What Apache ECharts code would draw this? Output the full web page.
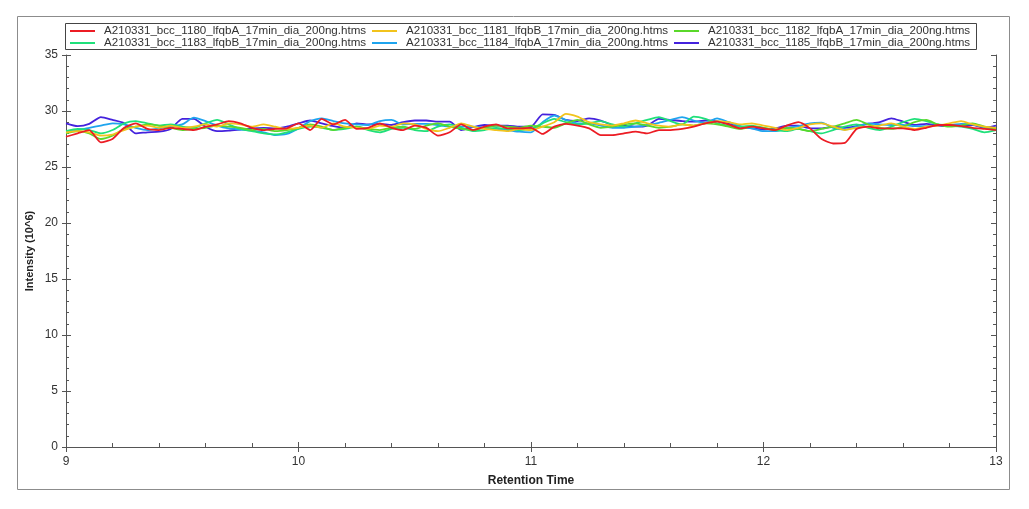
<!DOCTYPE html>
<html>
<head>
<meta charset="utf-8">
<script src="https://cdn.jsdelivr.net/npm/echarts@6/dist/echarts.min.js"></script>
<style>
  html, body { margin: 0; padding: 0; background: #fff; }
  #chart { width: 1029px; height: 509px; }
</style>
</head>
<body>
<div id="chart"></div>
<script>
// retention time, 9.00 .. 13.00 min, step 0.05
const times = Array.from({ length: 81 }, (_, i) => +(9 + i * 0.05).toFixed(2))

const names = [
  'A210331_bcc_1180_lfqbA_17min_dia_200ng.htms',
  'A210331_bcc_1181_lfqbB_17min_dia_200ng.htms',
  'A210331_bcc_1182_lfqbA_17min_dia_200ng.htms',
  'A210331_bcc_1183_lfqbB_17min_dia_200ng.htms',
  'A210331_bcc_1184_lfqbA_17min_dia_200ng.htms',
  'A210331_bcc_1185_lfqbB_17min_dia_200ng.htms'
]
const colors = ['#ec1c24', '#f2c31c', '#5ad82a', '#1fe07a', '#1ea4ee', '#4422dd']

const yTicks = [0, 5, 10, 15, 20, 25, 30, 35]
const xTicks = [9, 10, 11, 12, 13]

// intensity (10^6)
const s1180 = [27.7, 28.0, 28.3, 27.2, 27.5, 28.5, 28.9, 28.4, 28.3, 28.5, 28.4, 28.3, 28.6, 28.8, 29.1, 28.9, 28.5, 28.3, 28.4, 28.45,
  28.9, 28.3, 29.3, 28.8, 29.2, 28.4, 28.5, 28.9, 28.5, 28.3, 28.7, 28.5, 27.8, 28.1, 28.8, 28.3, 28.6, 28.8, 28.45, 28.45,
  28.5, 27.95, 28.6, 28.85, 28.7, 28.45, 27.85, 27.85, 28.0, 28.15, 28.0, 28.3, 28.3, 28.4, 28.6, 28.9, 29.05, 28.8, 28.45, 28.6,
  28.45, 28.3, 28.7, 29.0, 28.45, 27.5, 27.1, 27.15, 28.4, 28.6, 28.45, 28.45, 28.45, 28.3, 28.5, 28.75, 28.75, 28.65, 28.5, 28.4, 28.3]
const s1181 = [28.1, 28.2, 28.1, 27.8, 27.9, 28.3, 28.6, 28.7, 28.5, 28.7, 28.5, 28.6, 28.8, 28.6, 28.9, 28.8, 28.6, 28.8, 28.6, 28.4,
  28.5, 28.7, 28.5, 28.9, 28.6, 28.5, 28.4, 28.7, 28.6, 28.9, 28.8, 28.4, 28.2, 28.5, 28.9, 28.6, 28.4, 28.3, 28.2, 28.4,
  28.3, 28.6, 29.0, 29.75, 29.5, 29.0, 28.8, 28.7, 28.9, 29.15, 28.9, 28.7, 28.6, 28.8, 28.7, 28.9, 29.1, 29.0, 28.8, 28.9,
  28.7, 28.5, 28.3, 28.5, 28.8, 28.9, 28.6, 28.3, 28.5, 28.6, 28.7, 28.9, 28.6, 28.4, 28.6, 28.7, 28.9, 29.1, 28.8, 28.6, 28.5]
const s1182 = [28.0, 28.2, 28.0, 27.5, 27.8, 28.4, 28.6, 28.8, 28.7, 28.5, 28.3, 28.4, 28.5, 28.7, 28.6, 28.5, 28.3, 28.4, 28.2, 28.3,
  28.5, 28.8, 28.6, 28.3, 28.5, 28.6, 28.4, 28.3, 28.5, 28.6, 28.4, 28.7, 28.9, 28.6, 28.4, 28.3, 28.5, 28.7, 28.6, 28.5,
  28.7, 28.6, 28.5, 28.9, 29.2, 28.8, 28.5, 28.6, 28.8, 28.9, 28.7, 28.5, 28.6, 28.8, 28.7, 28.9, 28.8, 28.6, 28.4, 28.6,
  28.5, 28.3, 28.5, 28.4, 28.2, 28.4, 28.6, 28.9, 29.2, 28.8, 28.5, 28.4, 28.6, 29.0, 29.2, 28.8, 28.6, 28.7, 28.9, 28.6, 28.4]
const s1183 = [28.2, 28.4, 28.3, 28.0, 28.3, 28.9, 29.1, 28.9, 28.7, 28.8, 28.6, 28.5, 28.9, 29.2, 28.8, 28.4, 28.2, 28.0, 27.9, 28.1,
  28.4, 28.6, 28.5, 28.3, 28.4, 28.6, 28.3, 28.1, 28.4, 28.5, 28.3, 28.2, 28.6, 28.8, 28.5, 28.2, 28.3, 28.5, 28.4, 28.3,
  28.4, 28.9, 29.3, 29.0, 28.8, 28.9, 29.1, 28.8, 28.6, 28.9, 29.2, 29.45, 29.1, 28.8, 29.5, 29.3, 28.9, 28.7, 28.6, 28.7,
  28.5, 28.3, 28.2, 28.4, 28.2, 28.0, 28.3, 28.6, 28.8, 28.5, 28.3, 28.6, 29.0, 29.3, 29.1, 28.8, 28.7, 28.6, 28.4, 28.1, 28.3]
const s1184 = [28.15, 28.3, 28.5, 28.7, 28.9, 28.8, 28.5, 28.3, 28.45, 28.6, 28.8, 29.4, 29.1, 28.7, 28.45, 28.35, 28.25, 28.1, 27.85, 27.95,
  28.45, 29.1, 29.35, 29.1, 28.9, 28.8, 28.75, 29.1, 29.2, 28.8, 28.85, 28.85, 28.75, 28.6, 28.6, 28.6, 28.5, 28.4, 28.3, 28.15,
  28.1, 29.0, 29.6, 29.2, 28.9, 28.9, 28.7, 28.5, 28.5, 28.6, 28.75, 28.95, 29.2, 29.45, 29.15, 28.95, 29.35, 29.0, 28.65, 28.45,
  28.2, 28.2, 28.45, 28.65, 28.9, 28.95, 28.5, 28.35, 28.6, 28.9, 28.8, 28.75, 28.75, 28.65, 28.65, 28.75, 28.75, 28.85, 28.8, 28.55, 28.45]
const s1185 = [28.9, 28.65, 28.85, 29.45, 29.2, 28.9, 28.0, 28.1, 28.15, 28.4, 29.3, 29.3, 28.6, 28.2, 28.25, 28.35, 28.45, 28.5, 28.45, 28.6,
  28.9, 29.15, 28.9, 28.65, 28.5, 28.9, 28.8, 28.85, 28.75, 29.0, 29.15, 29.15, 29.05, 29.05, 28.3, 28.55, 28.75, 28.7, 28.7, 28.6,
  28.6, 29.7, 29.65, 29.2, 29.1, 29.35, 29.15, 28.75, 28.7, 28.6, 28.7, 29.3, 29.2, 29.1, 29.05, 29.15, 29.1, 28.85, 28.6, 28.45,
  28.35, 28.45, 28.7, 28.7, 28.45, 28.45, 28.6, 28.5, 28.65, 28.85, 29.0, 29.35, 29.05, 28.75, 28.85, 28.7, 28.65, 28.7, 28.75, 28.5, 28.7]

const seriesValues = [s1180, s1181, s1182, s1183, s1184, s1185]

const font = 'Liberation Sans, Arial, sans-serif'
const axisColor = '#555'
const labelColor = '#333'

// legend: two rows, three columns, each item placed on its own
const legendCols = [70, 372, 674]
const legendRows = [25, 37]

const chart = echarts.init(document.getElementById('chart'))

const option = {
  animation: false,
  textStyle: { fontFamily: font },
  grid: { left: 66, right: 33, top: 55, bottom: 62 },
  graphic: [
    {
      type: 'rect',
      shape: { x: 17.5, y: 16.5, width: 992, height: 473 },
      style: { fill: 'none', stroke: '#8c8c8c', lineWidth: 1 },
      silent: true
    },
    {
      type: 'rect',
      shape: { x: 65.5, y: 23.5, width: 911, height: 26 },
      style: { fill: '#fff', stroke: '#444', lineWidth: 1 },
      z: -1,
      silent: true
    }
  ],
  legend: names.map((n, i) => ({
    data: [n],
    left: legendCols[i % 3],
    top: legendRows[Math.floor(i / 3)],
    padding: 0,
    icon: 'rect',
    itemWidth: 25,
    itemHeight: 2,
    itemGap: 0,
    selectedMode: false,
    textStyle: { fontSize: 11.6, color: labelColor, fontFamily: font, padding: [0, 0, 0, 4] }
  })),
  xAxis: [
    {
      type: 'value',
      min: 9,
      max: 13,
      interval: 1,
      axisLine: { show: true, lineStyle: { color: axisColor } },
      axisTick: { show: true, inside: true, length: 5, lineStyle: { color: axisColor } },
      minorTick: { show: true, splitNumber: 5, length: 4, lineStyle: { color: axisColor } },
      splitLine: { show: false },
      axisLabel: { show: false },
      name: 'Retention Time',
      nameLocation: 'middle',
      nameGap: 28,
      nameTextStyle: { fontWeight: 'bold', fontSize: 12, color: '#222', fontFamily: font }
    },
    {
      type: 'value',
      position: 'bottom',
      min: 9,
      max: 13,
      interval: 1,
      axisLine: { show: false },
      axisTick: { show: true, length: 5, lineStyle: { color: axisColor } },
      splitLine: { show: false },
      axisLabel: {
        fontSize: 12, color: labelColor, margin: 9, fontFamily: font,
        formatter: v => (xTicks.includes(v) ? String(v) : '')
      }
    }
  ],
  yAxis: [
    {
      type: 'value',
      min: 0,
      max: 35,
      interval: 5,
      axisLine: { show: true, lineStyle: { color: axisColor } },
      axisTick: { show: true, inside: true, length: 5, lineStyle: { color: axisColor } },
      minorTick: { show: true, splitNumber: 5, length: 3, lineStyle: { color: axisColor } },
      splitLine: { show: false },
      axisLabel: { show: false },
      name: 'Intensity (10^6)',
      nameLocation: 'middle',
      nameGap: 31,
      nameRotate: 90,
      nameTextStyle: { fontWeight: 'bold', fontSize: 11, color: '#222', fontFamily: font }
    },
    {
      type: 'value',
      position: 'left',
      min: 0,
      max: 35,
      interval: 5,
      axisLine: { show: false },
      axisTick: { show: true, length: 4, lineStyle: { color: axisColor } },
      splitLine: { show: false },
      axisLabel: {
        fontSize: 12, color: labelColor, margin: 8, fontFamily: font,
        formatter: v => (yTicks.includes(v) ? String(v) : '')
      }
    },
    {
      type: 'value',
      position: 'right',
      min: 0,
      max: 35,
      interval: 5,
      axisLine: { show: true, lineStyle: { color: axisColor } },
      axisTick: { show: true, inside: true, length: 5, lineStyle: { color: axisColor } },
      minorTick: { show: true, splitNumber: 5, length: 3, lineStyle: { color: axisColor } },
      splitLine: { show: false },
      axisLabel: { show: false }
    }
  ],
  series: names.map((n, i) => ({
    name: n,
    type: 'line',
    data: times.map((t, j) => [t, seriesValues[i][j]]),
    showSymbol: false,
    smooth: 0.2,
    color: colors[i],
    lineStyle: { width: 1.8, color: colors[i] },
    z: 10 - i + (i === 0 ? 10 : 0)
  }))
}

chart.setOption(option)
</script>
</body>
</html>
